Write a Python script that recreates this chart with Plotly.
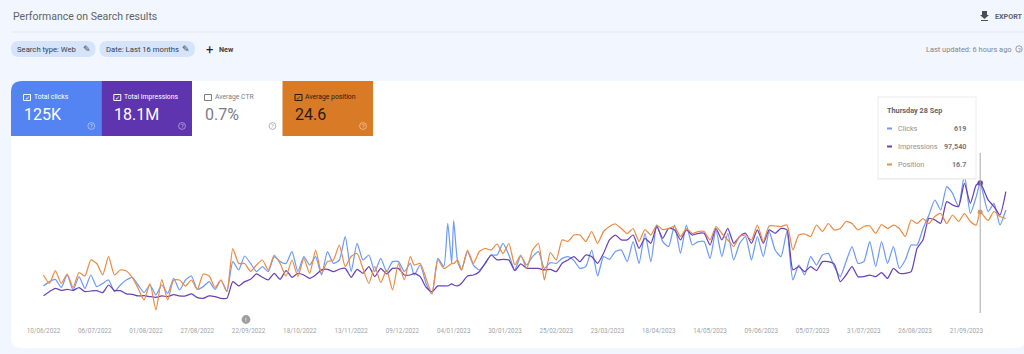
import pandas as pd
import plotly.graph_objects as go

W, H = 1024, 354
START = "2022-06-10"

DAY_OFFSETS = [0,3,6,9,12,15,18,21,24,27,30,33,36,39,42,45,48,51,54,57,60,63,66,69,72,75,78,81,84,87,
 90,93,96,99,102,105,108,111,114,117,120,123,126,129,132,135,138,141,144,147,150,153,156,159,162,165,168,171,174,177,
 180,183,186,188,191,194,197,200,203,205,207,208,210,212,
 215,218,221,224,227,230,233,236,239,242,245,248,251,254,257,260,263,266,269,272,275,278,281,284,287,290,293,296,299,302,
 305,308,311,314,317,320,323,326,329,332,335,338,341,344,347,350,353,356,359,362,365,368,371,374,377,380,383,386,389,392,
 395,398,401,404,407,410,413,416,419,422,425,428,431,434,437,440,443,446,449,452,455,458,461,464,467,470,473,475,479,482,485,488]

CLICKS = [105,127,138,98,160,85,152,93,160,102,118,135,77,110,135,148,110,72,110,60,
 110,68,143,85,135,155,88,102,127,88,135,77,227,185,255,218,177,202,177,252,
 227,218,277,177,252,210,252,160,277,218,235,352,177,318,235,260,177,243,177,227,
 227,177,218,160,210,118,65,243,202,418,218,432,227,185,
 277,210,185,218,260,260,318,260,185,255,210,252,277,193,222,218,243,252,
 232,193,202,285,155,252,238,277,285,227,327,218,368,227,410,327,302,410,268,410,
 310,327,327,243,385,252,368,235,318,352,235,352,252,377,285,
 252,377,135,210,160,252,210,260,268,202,152,227,302,218,227,
 327,202,327,218,302,193,235,310,310,393,460,535,485,602,568,502,660,468,552,619,477,518,410,485]

IMPRESSIONS_K = [13,16,18.5,17,17.8,17,19,16,16.5,16.8,15.3,21,16.8,16.8,14.3,14,12.8,13,12.3,11.8,
 12.8,12.3,13.8,12.8,12.8,14.3,11.5,11,12.8,12.3,11,11,23.5,20.3,23.5,25.3,29.3,26.8,24.8,29.8,
 25.3,31.8,26.8,29.8,28.5,26,28.5,32.3,32.8,31,32.8,33.5,26.8,32.8,29.8,34.8,27.3,33.5,29.3,33.5,
 33.5,28.5,28.5,29.8,27.3,19.3,16,20.3,20.3,20.3,21.8,21,20.3,22.3,
 27.8,28.5,31,37.3,43.5,39.8,40.3,39.8,31.8,36.8,33.5,33.5,33.5,32.3,32.8,31,37.3,39.8,
 42.3,38.5,43.5,42.3,37.3,44.8,54.8,58.5,54.8,54.8,58.5,48.5,56,52.3,64.8,56,63.5,62.3,54.8,62.3,
 58.5,59.8,59.8,51,63.5,54.8,63.5,52.3,57.3,59.8,52.3,62.3,52.3,62.3,59.8,
 63.5,62.3,32.3,34.8,31,34.8,31.8,38.5,38.5,36.8,23.5,28.5,34.8,27.3,27.3,
 28.5,27.3,30.3,26,33.5,29.8,29.8,31,48.5,54.8,71,69.8,67.3,83.5,81,79.8,97.3,82.3,96,97.54,84.8,79.8,73.5,91]

POSITION = [29.3,31,28.4,31,29.1,31.8,28.8,29.5,26.3,27,29.3,25.6,29.3,28.3,28.5,29.8,32,34.3,31,36.3,
 30.2,34.3,30.3,30.3,31.5,30.3,32.2,29.1,29.5,31.8,30.3,32.6,24,27,27,28.6,27.3,26.3,28.3,25.3,
 27,29.5,26.3,29.6,26,29,24.3,29,26.6,26.3,23.3,27.6,25.6,25,28,31,27.6,30.8,28.3,32.3,
 27,30.3,25.6,27.3,27,30,33,26.3,28,27.6,27,27,26.3,28.3,
 24.3,27,24.6,24,24.3,23.1,25,23,27.3,25.3,28,24.3,23,30.3,24.8,26.3,22.3,22.6,
 21.3,21.3,22.6,20.6,23,20.6,19.6,19.1,20,21,20,22.6,20.2,21.3,19.3,20.2,20,19.6,21.6,20,
 21,20.6,20.6,22.3,19.6,21,22.3,23.6,21.6,21.3,22.3,19.3,22.6,19.5,19.5,
 19.6,19.3,24.3,21.3,21.1,21.6,19.3,20.6,19,20.3,20,18.6,19,20.3,19.6,
 19.5,21,19.2,20,19.3,20,21.6,18.3,19,18,19,17.6,17,19,17.3,18.6,17,18.6,19.3,16.7,18.4,16.6,17.6,18]

TICK_LABELS = ["10/06/2022","06/07/2022","01/08/2022","27/08/2022","22/09/2022","18/10/2022","13/11/2022",
 "09/12/2022","04/01/2023","30/01/2023","25/02/2023","23/03/2023","18/04/2023","14/05/2023","09/06/2023",
 "05/07/2023","31/07/2023","26/08/2023","21/09/2023"]

CARD_NAMES = ["Total clicks", "Total impressions", "Average CTR", "Average position"]
CARD_VALUES = ["125K", "18.1M", "0.7%", "24.6"]
TOOLTIP_ROWS = [("Clicks", "619"), ("Impressions", "97,540"), ("Position", "16.7")]

BG, BLUE, PURPLE, ORANGE = "#f2f6fe", "#6f9bf7", "#6a42b8", "#e98d45"
CARD_BLUE, CARD_PURPLE, CARD_ORANGE = "#5484f2", "#5e35ae", "#d97a26"
FONT = "Roboto"
GREY = "#5f6368"

assert len(DAY_OFFSETS) == len(CLICKS) == len(IMPRESSIONS_K) == len(POSITION), (
    len(DAY_OFFSETS), len(CLICKS), len(IMPRESSIONS_K), len(POSITION))

t0 = pd.Timestamp(START)
dates = [t0 + pd.Timedelta(days=d) for d in DAY_OFFSETS]
impressions = [v * 1000 for v in IMPRESSIONS_K]
focus = pd.Timestamp("2023-09-28")
focus_i = dates.index(focus)

fx = lambda x: x / W
fy = lambda y: 1 - y / H

def rect(x0, y0, x1, y1, fill, line=None, r=(0, 0, 0, 0), layer="below"):
    tl, tr, br, bl = r
    p = f"M {fx(x0+tl)} {fy(y0)} L {fx(x1-tr)} {fy(y0)} "
    if tr: p += f"Q {fx(x1)} {fy(y0)} {fx(x1)} {fy(y0+tr)} "
    p += f"L {fx(x1)} {fy(y1-br)} "
    if br: p += f"Q {fx(x1)} {fy(y1)} {fx(x1-br)} {fy(y1)} "
    p += f"L {fx(x0+bl)} {fy(y1)} "
    if bl: p += f"Q {fx(x0)} {fy(y1)} {fx(x0)} {fy(y1-bl)} "
    p += f"L {fx(x0)} {fy(y0+tl)} "
    if tl: p += f"Q {fx(x0)} {fy(y0)} {fx(x0+tl)} {fy(y0)} "
    p += "Z"
    return dict(type="path", path=p, xref="paper", yref="paper", fillcolor=fill,
                line=dict(color=line or fill, width=1 if line else 0), layer=layer)

def circle(cx, cy, r, fill, line=None, layer="above"):
    return dict(type="circle", xref="paper", yref="paper", x0=fx(cx-r), x1=fx(cx+r), y0=fy(cy+r), y1=fy(cy-r),
                fillcolor=fill, line=dict(color=line or fill, width=0.8 if line else 0), layer=layer)

def text(x, y, s, size=8, color=GREY, anchor="left", weight=None):
    body = f"<b>{s}</b>" if weight else s
    return dict(x=fx(x), y=fy(y), xref="paper", yref="paper", text=body, showarrow=False, xanchor=anchor,
                yanchor="middle", font=dict(family=FONT, size=size, color=color), borderpad=0, borderwidth=0)

shapes, notes = [], []
# page furniture
shapes.append(dict(type="line", xref="paper", yref="paper", x0=fx(11), x1=1, y0=fy(32), y1=fy(32),
                   line=dict(color="#e6eaf3", width=1), layer="below"))
notes.append(text(13, 17, "Performance on Search results", 10.5))
shapes.append(rect(11, 41, 95.5, 57, "#d5e3fb", r=(8, 8, 8, 8)))
shapes.append(rect(99.5, 41, 195, 57, "#d5e3fb", r=(8, 8, 8, 8)))
notes += [text(17, 49.5, "Search type: Web", 7.7, "#3c4043"), text(106, 49.5, "Date: Last 16 months", 7.7, "#3c4043"),
          text(87, 49, "✎", 9, "#3c4043", "center"), text(186, 49, "✎", 9, "#3c4043", "center"),
          text(209, 49, "+", 13, "#202124", "center"), text(219, 49.5, "New", 7.2, "#3c4043", weight=True),
          text(995, 16.5, "EXPORT", 7.2, "#5f6368", weight=True),
          text(1012, 49, "Last updated: 6 hours ago", 7.4, "#80868b", "right"),
          text(1019, 49, "?", 6, "#80868b", "center")]
shapes.append(circle(1019, 49, 3.2, "rgba(0,0,0,0)", "#80868b"))
shapes.append(rect(982, 11, 987, 16, "#4a4d52"))
shapes.append(dict(type="path", xref="paper", yref="paper", layer="above", fillcolor="#4a4d52", line=dict(width=0),
                   path=f"M {fx(980)} {fy(15)} L {fx(989)} {fy(15)} L {fx(984.5)} {fy(19)} Z"))
shapes.append(rect(981, 20, 988, 21, "#4a4d52"))

# white card and score cards
shapes.append(rect(11, 81, 1026, 348, "#ffffff", r=(11, 0, 11, 11)))
card_x = [(11, 101.3), (101.3, 192), (192, 282.5), (282.5, 373)]
card_fill = [CARD_BLUE, CARD_PURPLE, "#ffffff", CARD_ORANGE]
card_text = ["#ffffff", "#ffffff", "#7a7d82", "#2b1a0c"]
for k, (x0, x1) in enumerate(card_x):
    shapes.append(rect(x0, 81, x1, 136, card_fill[k], r=(11 if k == 0 else 0, 0, 0, 0)))
    c = card_text[k]
    shapes.append(rect(x0 + 12.5, 94.5, x0 + 19.5, 100.5, "rgba(0,0,0,0)", line=c, layer="above"))
    if k != 2:
        notes.append(text(x0 + 16, 97.5, "✓", 6, c, "center"))
    notes.append(text(x0 + 22.5, 97, CARD_NAMES[k], 6.8, c))
    notes.append(text(x0 + 12.5, 115, CARD_VALUES[k], 16, c))
    shapes.append(circle(x1 - 10, 126, 3.4, "rgba(0,0,0,0)", "rgba(255,255,255,.55)" if k != 2 else "#9aa0a6"))
    notes.append(text(x1 - 10, 126, "?", 5.5, "rgba(255,255,255,.7)" if k != 2 else "#9aa0a6", "center"))

# event marker
shapes.append(circle(246, 319.5, 4.4, "#9e9e9e"))
notes.append(text(246, 319.5, "!", 6, "#ffffff", "center"))

# focus line
shapes.append(dict(type="line", xref="x", yref="paper", x0=focus, x1=focus, y0=fy(313), y1=fy(153),
                   line=dict(color="#a6a9ad", width=1), layer="above"))

# tooltip
shapes.append(rect(877.5, 96.5, 976.5, 179.5, "#ececec", layer="above"))
shapes.append(rect(878.5, 97.5, 975.5, 178, "#ffffff", layer="above"))
notes.append(text(887, 110.5, "Thursday 28 Sep", 7.3, "#5f6368", weight=True))
for (name, val), col, yy in zip(TOOLTIP_ROWS, [BLUE, PURPLE, ORANGE], [128.5, 146.5, 164.5]):
    shapes.append(rect(887, yy - 1, 892, yy + 1, col, layer="above"))
    notes.append(text(898, yy, name, 7.2, "#8d9095"))
    notes.append(text(966, yy, val, 7.2, "#77797e", "right", weight=True))

def curve(color):
    return dict(color=color, width=1.25, shape="spline", smoothing=0.55)

fig = go.Figure()
fig.add_trace(go.Scatter(x=dates, y=POSITION, yaxis="y3", name="Position", mode="lines", line=curve(ORANGE)))
fig.add_trace(go.Scatter(x=dates, y=CLICKS, yaxis="y", name="Clicks", mode="lines", line=curve(BLUE)))
fig.add_trace(go.Scatter(x=dates, y=impressions, yaxis="y2", name="Impressions", mode="lines", line=curve(PURPLE)))
fig.add_trace(go.Scatter(x=[focus], y=[POSITION[focus_i]], yaxis="y3", mode="markers",
                         marker=dict(color=ORANGE, size=5), showlegend=False))
fig.add_trace(go.Scatter(x=[focus], y=[impressions[focus_i]], yaxis="y2", mode="markers",
                         marker=dict(color=PURPLE, size=5.5), showlegend=False))

tick_dates = [pd.to_datetime(s, format="%d/%m/%Y") for s in TICK_LABELS]
x_scale = 1.972  # pixels per day
plot_dom = [fy(326), fy(145)]
ykw = dict(visible=False, domain=plot_dom, fixedrange=True)
fig.update_layout(
    width=W, height=H, margin=dict(l=0, r=0, t=0, b=0), showlegend=False,
    paper_bgcolor=BG, plot_bgcolor="rgba(0,0,0,0)",
    xaxis=dict(range=[t0 - pd.Timedelta(days=43.5 / x_scale), t0 + pd.Timedelta(days=(W - 43.5) / x_scale)],
               domain=[0, 1], tickmode="array", tickvals=tick_dates, ticktext=TICK_LABELS, showgrid=False,
               zeroline=False, showline=False, ticks="", tickangle=0, ticklabeloverflow="allow",
               tickfont=dict(family=FONT, size=6.3, color="#a0a3a8"), anchor="free", position=fy(326)),
    yaxis=dict(range=[-95, 810], **ykw),
    yaxis2=dict(range=[-9750, 126000], overlaying="y", **ykw),
    yaxis3=dict(range=[39.5, 3.3], overlaying="y", **ykw),
    shapes=shapes, annotations=notes,
)
fig.write_html("out.html", post_script="document.body.style.margin='0';document.body.style.overflow='hidden';",
               config=dict(displayModeBar=False))
